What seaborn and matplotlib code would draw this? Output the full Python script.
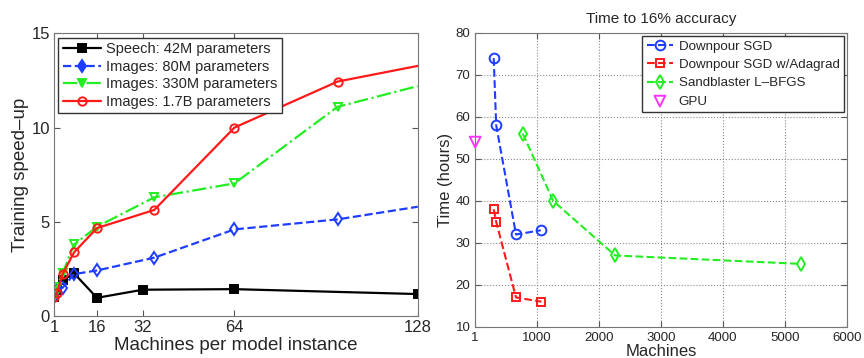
import numpy as np
import pandas as pd
import matplotlib
matplotlib.use("Agg")
import matplotlib.pyplot as plt
import seaborn as sns

# left panel: training speed-up vs machines per model instance
speech_x = [1, 2, 4, 8, 16, 32, 64, 128]
speech_y = [1.0, 1.4, 1.9, 2.27, 0.97, 1.4, 1.43, 1.17]
img80_x = [1, 2, 4, 8, 16, 36, 64, 100, 128]
img80_y = [1.0, 1.4, 1.5, 2.23, 2.42, 3.1, 4.6, 5.13, 5.8]
img330_x = [1, 2, 4, 8, 16, 36, 64, 100, 128]
img330_y = [1.0, 1.55, 2.27, 3.8, 4.74, 6.3, 7.04, 11.1, 12.2]
img17b_x = [1, 2, 4, 8, 16, 36, 64, 100, 128]
img17b_y = [1.0, 1.2, 2.23, 3.38, 4.67, 5.63, 10.0, 12.44, 13.27]

# right panel: time to 16% accuracy
sgd_x = [300, 340, 660, 1060]
sgd_y = [74, 58, 32, 33]
ada_x = [300, 340, 660, 1070]
ada_y = [38, 35, 17, 16]
lbfgs_x = [770, 1260, 2260, 5260]
lbfgs_y = [56, 40, 27, 25]
gpu_x = [1]
gpu_y = [54]

sns.set_style("ticks")
plt.rcParams["font.family"] = ["Liberation Sans", "DejaVu Sans"]
plt.rcParams["xtick.direction"] = "in"
plt.rcParams["ytick.direction"] = "in"

fig = plt.figure(figsize=(8.64, 3.58), dpi=100)
ax1 = fig.add_axes([0.0625, 0.117, 0.421, 0.79])
ax2 = fig.add_axes([0.55, 0.087, 0.43, 0.821])

BLUE, GREEN, RED, MAG = "#1f3dff", "#22ee22", "#ff1a1a", "#ff33ff"


def mk(c, size=6, fill="none"):
    return dict(markerfacecolor=fill, markeredgecolor=c,
                markeredgewidth=1.4, markersize=size)


# ---- left
sns.lineplot(x=speech_x, y=speech_y, ax=ax1, color="black", lw=1.6,
             marker="s", label="Speech: 42M parameters", **mk("black", 6, "black"))
sns.lineplot(x=img80_x, y=img80_y, ax=ax1, color=BLUE, lw=1.6, linestyle="--",
             marker="d", markevery=slice(0, -1), label="Images: 80M parameters", **mk(BLUE))
sns.lineplot(x=img330_x, y=img330_y, ax=ax1, color=GREEN, lw=1.6, linestyle="-.",
             marker="v", markevery=slice(0, -1), label="Images: 330M parameters", **mk(GREEN))
sns.lineplot(x=img17b_x, y=img17b_y, ax=ax1, color=RED, lw=1.6,
             marker="o", markevery=slice(0, -1), label="Images: 1.7B parameters", **mk(RED))

ax1.set_xlim(1, 128)
ax1.set_ylim(0, 15)
ax1.set_xticks([1, 16, 32, 64, 128])
ax1.set_yticks([0, 5, 10, 15])
ax1.tick_params(labelsize=12, top=True, right=True, length=4, color="#555555", pad=3)
ax1.set_xlabel("Machines per model instance", fontsize=13.5, labelpad=1)
ax1.set_ylabel("Training speed\u2013up", fontsize=13.5, labelpad=2)
leg = ax1.legend(loc="upper left", fontsize=10.5, frameon=True, fancybox=False,
                 edgecolor="#333333", framealpha=1, borderaxespad=0.3,
                 handlelength=2.6, labelspacing=0.25, borderpad=0.3, handletextpad=0.4)
for line in leg.get_lines()[:3]:
    line.set_markerfacecolor(line.get_color())
for s in ax1.spines.values():
    s.set_color("#777777")

# ---- right
sns.lineplot(x=sgd_x, y=sgd_y, ax=ax2, color=BLUE, lw=1.5, linestyle="--",
             marker="o", label="Downpour SGD", sort=False, **mk(BLUE, 7))
sns.lineplot(x=ada_x, y=ada_y, ax=ax2, color=RED, lw=1.5, linestyle="--",
             marker="s", label="Downpour SGD w/Adagrad", sort=False, **mk(RED, 6))
sns.lineplot(x=lbfgs_x, y=lbfgs_y, ax=ax2, color=GREEN, lw=1.5, linestyle="--",
             marker="d", label="Sandblaster L\u2013BFGS", sort=False, **mk(GREEN, 7))
sns.scatterplot(x=gpu_x, y=gpu_y, ax=ax2, marker="v", s=60, facecolor="none",
                edgecolor=MAG, linewidth=1.4, label="GPU", clip_on=False, zorder=5)

ax2.set_xlim(1, 6000)
ax2.set_ylim(10, 80)
ax2.set_xticks([1, 1000, 2000, 3000, 4000, 5000, 6000])
ax2.set_yticks(range(10, 81, 10))
ax2.grid(True, linestyle=":", color="#888888", lw=0.8)
ax2.tick_params(labelsize=9.5, top=True, right=True, length=4, color="#555555")
ax2.set_xlabel("Machines", fontsize=12, labelpad=0)
ax2.set_ylabel("Time (hours)", fontsize=12, labelpad=2)
ax2.set_title("Time to 16% accuracy", fontsize=11, pad=7)
leg2 = ax2.legend(loc="upper right", fontsize=9.6, frameon=True, fancybox=False,
                  edgecolor="#333333", framealpha=1, borderaxespad=0.2,
                  handlelength=2.0, labelspacing=0.45, borderpad=0.35, handletextpad=0.4)
for s in ax2.spines.values():
    s.set_color("#777777")

fig.savefig("out.png", dpi=100)
